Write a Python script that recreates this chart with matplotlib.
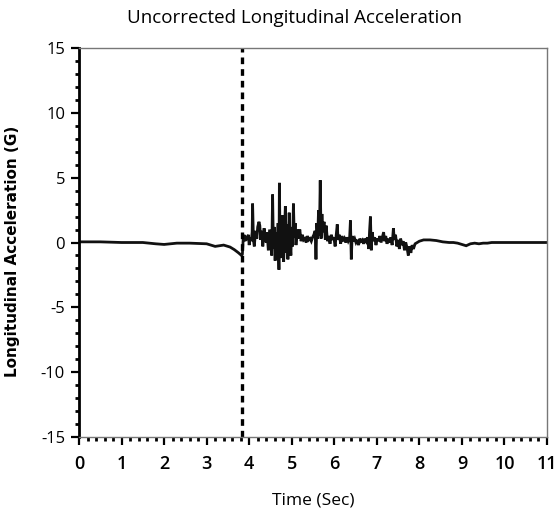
"""Uncorrected longitudinal acceleration trace with event marker."""
import matplotlib

matplotlib.use("Agg")
import matplotlib.pyplot as plt
from matplotlib.ticker import MultipleLocator

TITLE = "Uncorrected Longitudinal Acceleration"
X_LABEL = "Time (Sec)"
Y_LABEL = "Longitudinal Acceleration (G)"

EVENT_TIME = 3.83

# values (sec, G)
time_s = [
    0.0, 0.5, 1.0, 1.5, 1.8, 2.0, 2.3, 2.6, 3.0, 3.2, 3.4, 3.55, 3.65, 3.75, 3.82,
    3.84, 3.86, 3.88, 3.90, 3.93, 3.95, 3.98, 4.00, 4.02, 4.05, 4.07, 4.08, 4.10,
    4.12, 4.15, 4.18, 4.20, 4.23, 4.25, 4.27, 4.30, 4.32, 4.35, 4.38, 4.40, 4.42,
    4.45, 4.48, 4.50, 4.53, 4.55, 4.57, 4.59, 4.61, 4.63, 4.66, 4.68, 4.70, 4.71,
    4.73, 4.75, 4.77, 4.79, 4.81, 4.83, 4.85, 4.87, 4.89, 4.91, 4.94, 4.96, 4.98,
    5.00, 5.02, 5.04, 5.06, 5.08, 5.10, 5.13, 5.16, 5.19, 5.22, 5.25, 5.28, 5.31,
    5.34, 5.37, 5.40, 5.43, 5.46, 5.49, 5.52, 5.55, 5.57, 5.59, 5.61, 5.63, 5.65,
    5.67, 5.69, 5.71, 5.73, 5.76, 5.79, 5.81, 5.84, 5.87, 5.90, 5.93, 5.96, 5.99,
    6.02, 6.05, 6.07, 6.09, 6.12, 6.15, 6.18, 6.21, 6.24, 6.27, 6.30, 6.33, 6.36,
    6.38, 6.40, 6.42, 6.45, 6.48, 6.51, 6.54, 6.57, 6.60, 6.63, 6.66, 6.69, 6.72,
    6.75, 6.78, 6.81, 6.83, 6.85, 6.87, 6.89, 6.92, 6.95, 6.98, 7.01, 7.04, 7.07,
    7.10, 7.13, 7.16, 7.18, 7.21, 7.24, 7.27, 7.30, 7.33, 7.36, 7.39, 7.41, 7.44,
    7.47, 7.50, 7.53, 7.56, 7.59, 7.62, 7.65, 7.68, 7.71, 7.74, 7.77, 7.80, 7.83,
    7.86, 7.90, 7.95, 8.00, 8.10, 8.25, 8.40, 8.55, 8.70, 8.80, 8.90, 9.00, 9.10,
    9.20, 9.30, 9.40, 9.50, 9.60, 9.70, 9.80, 10.0, 10.5, 11.0,
]
accel_g = [
    0.05, 0.05, 0.0, 0.0, -0.1, -0.15, -0.05, -0.05, -0.1, -0.3, -0.2, -0.35, -0.55, -0.8, -1.0,
    -0.9, 0.3, 0.6, 0.1, 0.5, 0.2, 0.6, -0.2, 0.4, 0.1, 0.8, 3.0, 0.2,
    -0.3, 0.9, 0.3, 1.2, 1.6, 1.3, 0.2, 0.9, -0.3, 1.1, 0.4, 0.0, 0.8,
    -0.6, 1.0, 0.2, -1.0, 3.7, -0.5, 1.2, -1.4, 0.8, -0.2, 1.5, -2.1, 4.6,
    -1.2, 1.0, -0.6, 2.1, -1.5, 0.7, 2.8, -0.8, 1.4, -1.3, 2.3, 0.1, -1.0,
    1.2, -0.3, 3.0, 0.4, 1.5, -0.2, 1.0, 0.3, 1.0, 0.1, 0.6, 0.2, 0.3,
    0.0, 0.5, 0.2, 0.3, 0.1, 0.4, 0.6, 0.9, -1.3, 1.5, 0.3, 2.5, 0.5,
    4.8, 0.3, 2.2, 0.8, 1.6, 0.2, 1.3, 0.1, 0.5, -0.1, 0.6, 0.2, 0.4,
    -0.3, 0.7, 1.4, 0.2, 0.6, -0.1, 0.5, 0.1, 0.3, 0.0, 0.4, 0.1, 0.3,
    1.7, -1.3, 0.5, 0.1, 0.3, 0.0, 0.2, -0.2, 0.3, 0.1, 0.2, -0.1, 0.3,
    0.1, 0.4, -0.5, 0.9, 2.0, -0.6, 0.8, 0.1, 0.4, -0.2, 0.3, 0.1, 0.5,
    0.0, 0.4, 0.8, 0.1, 0.5, -0.1, 0.3, 0.0, 0.4, -0.2, 1.1, 0.2, 0.6,
    -0.3, 0.2, -0.5, 0.3, -0.2, 0.1, -0.6, 0.0, -0.4, -1.0, -0.3, -0.8, -0.2,
    -0.5, -0.1, 0.0, 0.1, 0.2, 0.2, 0.15, 0.05, 0.0, 0.0, -0.05, -0.15, -0.25,
    -0.1, -0.05, -0.1, -0.05, -0.05, 0.0, 0.0, 0.0, 0.0, 0.0,
]

x_ticks = list(range(0, 12))
y_ticks = [-15, -10, -5, 0, 5, 10, 15]

plt.rcParams["font.family"] = ["Open Sans", "DejaVu Sans"]

fig = plt.figure(figsize=(5.56, 5.19), dpi=100)
ax = fig.add_axes([0.1421, 0.158, 0.8417, 0.7495])

ax.plot(time_s, accel_g, color="#111111", lw=2.0, solid_joinstyle="miter")
ax.axvline(EVENT_TIME, color="black", lw=2.4, ls=(0, (2.0, 1.5)))

ax.set_xlim(0, 11)
ax.set_ylim(-15, 15)
ax.set_xticks(x_ticks)
ax.set_yticks(y_ticks)
ax.set_xticklabels([str(t) for t in x_ticks], fontsize=13, fontweight="semibold")
ax.set_yticklabels([str(t) for t in y_ticks], fontsize=12)
ax.xaxis.set_minor_locator(MultipleLocator(0.2))
ax.yaxis.set_minor_locator(MultipleLocator(1))
ax.tick_params(which="major", direction="out", length=6, width=1.6, pad=4)
ax.tick_params(axis="x", which="major", pad=7)
ax.tick_params(which="minor", direction="out", length=3, width=2.0)

for side in ("top", "right", "bottom"):
    ax.spines[side].set_color("#777777")
    ax.spines[side].set_linewidth(1.0)
ax.spines["left"].set_color("black")
ax.spines["left"].set_linewidth(2.0)

ax.set_xlabel(X_LABEL, fontsize=12.5, labelpad=14)
fig.text(0.022, 0.515, Y_LABEL, rotation=90, ha="center", va="center",
         fontsize=11, fontweight="bold", family="DejaVu Sans")
fig.text(0.53, 0.965, TITLE, ha="center", va="center", fontsize=13.5)

fig.savefig("out.png", dpi=100)
